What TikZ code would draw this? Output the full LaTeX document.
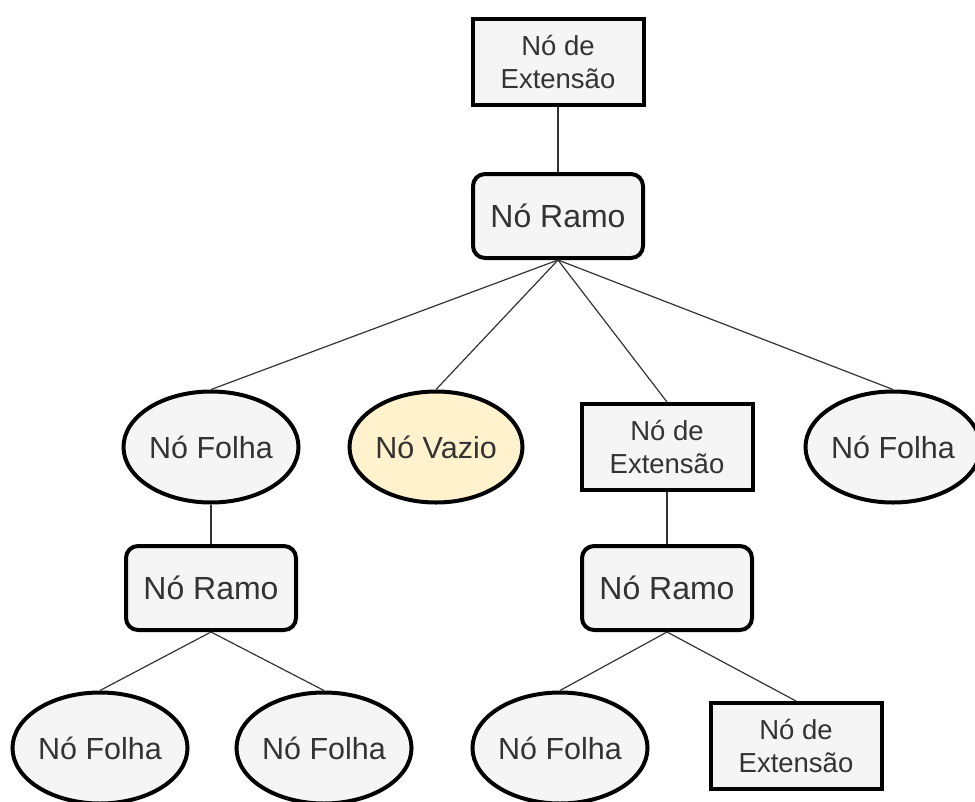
\documentclass[tikz,border=0pt]{standalone}
\usepackage{fontspec}
\setmainfont{Liberation Sans}
\usetikzlibrary{shapes.geometric}
\definecolor{nodefill}{HTML}{F5F5F5}
\definecolor{emptyfill}{HTML}{FFF2CC}
\definecolor{txt}{HTML}{333333}
\definecolor{edge}{HTML}{333333}
\tikzset{
  base/.style={draw=black, line width=4pt, fill=nodefill, text=txt, inner sep=0pt, align=center},
  extbox/.style={base, rectangle, minimum width=171pt, minimum height=86pt,
    font=\fontsize{27.5}{33}\selectfont},
  branch/.style={base, rectangle, rounded corners=12pt, minimum width=170pt, minimum height=84pt,
    font=\fontsize{32}{38}\selectfont},
  leaf/.style={base, ellipse, minimum width=173pt, minimum height=111pt,
    font=\fontsize{30.5}{36}\selectfont},
  emptyleaf/.style={leaf, fill=emptyfill},
  link/.style={draw=edge, line width=1.2pt}
}
\begin{document}
\begin{tikzpicture}[x=1pt, y=-1pt]
  \useasboundingbox (0,0) rectangle (975,801);

  % nodes
  \node[extbox] (ext1) at (558,62) {Nó de\\Extensão};
  \node[branch] (ramo1) at (558,216) {Nó Ramo};

  \node[leaf] (folhaA) at (211,447) {Nó Folha};
  \node[emptyleaf] (vazio) at (436,447) {Nó Vazio};
  \node[extbox] (ext2) at (667,447) {Nó de\\Extensão};
  \node[leaf] (folhaB) at (893,447) {Nó Folha};

  \node[branch] (ramoL) at (211,588) {Nó Ramo};
  \node[branch] (ramoR) at (667,588) {Nó Ramo};

  \node[leaf] (folha1) at (100,748) {Nó Folha};
  \node[leaf] (folha2) at (324,748) {Nó Folha};
  \node[leaf] (folha3) at (560,748) {Nó Folha};
  \node[extbox] (ext3) at (796,746) {Nó de\\Extensão};

  % connectors
  \draw[link] (ext1.south) -- (ramo1.north);
  \draw[link] (ramo1.south) -- (folhaA.north);
  \draw[link] (ramo1.south) -- (vazio.north);
  \draw[link] (ramo1.south) -- (ext2.north);
  \draw[link] (ramo1.south) -- (folhaB.north);
  \draw[link] (folhaA.south) -- (ramoL.north);
  \draw[link] (ext2.south) -- (ramoR.north);
  \draw[link] (ramoL.south) -- (folha1.north);
  \draw[link] (ramoL.south) -- (folha2.north);
  \draw[link] (ramoR.south) -- (folha3.north);
  \draw[link] (ramoR.south) -- (ext3.north);
\end{tikzpicture}
\end{document}
